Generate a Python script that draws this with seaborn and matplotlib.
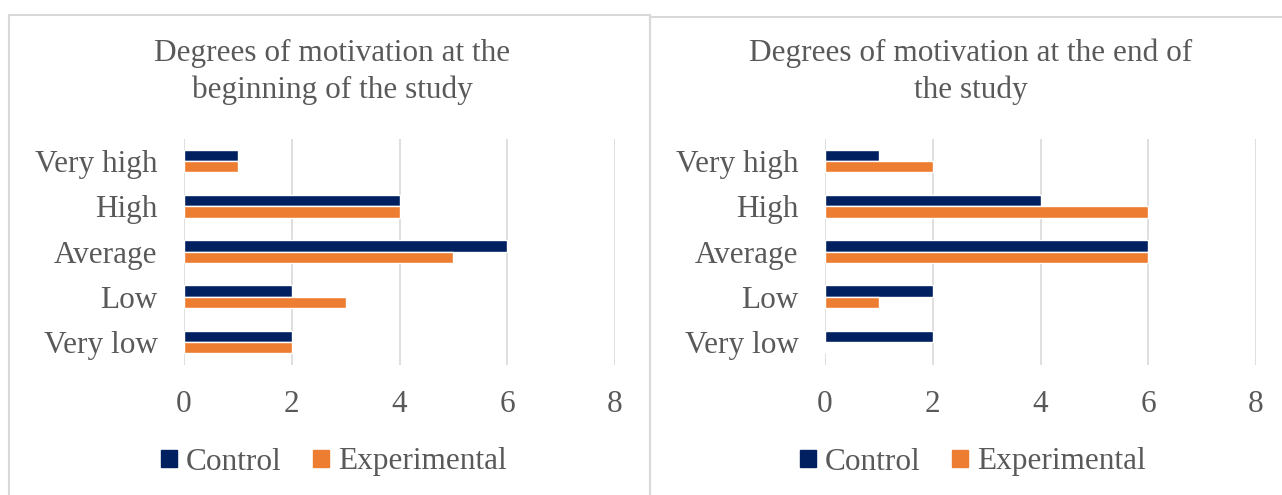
import pandas as pd
import seaborn as sns
import matplotlib.pyplot as plt
from matplotlib.patches import Rectangle, Patch

levels = ["Very high", "High", "Average", "Low", "Very low"]
groups = ["Control", "Experimental"]
start_control = [1, 4, 6, 2, 2]
start_experimental = [1, 4, 5, 3, 2]
end_control = [1, 4, 6, 2, 2]
end_experimental = [2, 6, 6, 1, 0]
titles = ["Degrees of motivation at the\nbeginning of the study",
          "Degrees of motivation at the end of\nthe study"]

navy = "#002060"
orange = "#ED7D31"
txt = "#595959"
grid = "#D9D9D9"
fs = 22.5

sns.set_style("white")
plt.rcParams["font.family"] = ["Liberation Serif", "DejaVu Serif"]

def make_df(ctrl, exp):
    return pd.DataFrame({
        "level": levels * 2,
        "group": [groups[0]] * 5 + [groups[1]] * 5,
        "count": ctrl + exp,
    })

frames = [make_df(start_control, start_experimental), make_df(end_control, end_experimental)]

fig = plt.figure(figsize=(12.82, 4.95), dpi=100)

# panel frames
fig.patches.append(Rectangle((9 / 1282, -0.02), 641 / 1282, 1 - 15 / 495 + 0.02,
                             transform=fig.transFigure, fill=False, ec=grid, lw=1.5))
fig.patches.append(Rectangle((650 / 1282, -0.02), 0.6, 1 - 17 / 495 + 0.02,
                             transform=fig.transFigure, fill=False, ec=grid, lw=1.5))

lefts = [184 / 1282, 825 / 1282]
centers = [334 / 1282, 973 / 1282]
for i, df in enumerate(frames):
    ax = fig.add_axes([lefts[i], 0.2635, 431 / 1282, 0.4566])
    sns.barplot(data=df, x="count", y="level", hue="group", order=levels,
                hue_order=groups, palette=[navy, orange], width=0.5,
                orient="h", ax=ax, legend=False, saturation=1)
    ax.set_xlim(0, 8)
    ax.set_ylim(4.5, -0.5)
    ax.set_xticks([0, 2, 4, 6, 8])
    ax.set_xlabel("")
    ax.set_ylabel("")
    ax.xaxis.grid(True, color=grid, lw=1.2)
    ax.set_axisbelow(True)
    for s in ax.spines.values():
        s.set_visible(False)
    ax.tick_params(axis="x", length=0, pad=18, labelsize=fs, labelcolor=txt)
    ax.tick_params(axis="y", length=0, pad=19, labelsize=fs, labelcolor=txt)
    fig.text(centers[i] - 2 / 1282, 1 - 72 / 495, titles[i], ha="center", va="center",
             fontsize=fs, color=txt, linespacing=1.32)
    handles = [Patch(color=navy, label=groups[0]), Patch(color=orange, label=groups[1])]
    fig.legend(handles=handles, loc="center", bbox_to_anchor=(centers[i], 1 - 462 / 495),
               ncol=2, frameon=False, fontsize=fs, labelcolor=txt,
               handlelength=0.5, handleheight=0.5, handletextpad=0.3, columnspacing=1.0)

fig.savefig("out.png", dpi=100)
